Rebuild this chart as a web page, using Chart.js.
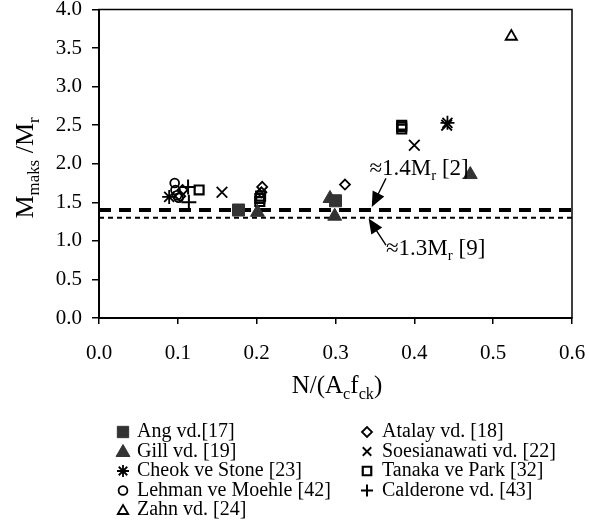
<!DOCTYPE html>
<html lang="tr">
<head>
<meta charset="UTF-8">
<title>Mmaks/Mr - N/(Ac fck)</title>
<script src="https://cdn.jsdelivr.net/npm/chart.js"></script>
<style>
  body { margin: 0; background: #fff; }
  #wrap { width: 589px; height: 531px; }
</style>
</head>
<body>
<div id="wrap"><canvas id="chart" width="589" height="531"></canvas></div>
<script>
// values
const angX = [0.177, 0.300];
const angY = [1.40, 1.52];
const atalayX = [0.103, 0.106, 0.206, 0.207, 0.312];
const atalayY = [1.58, 1.66, 1.63, 1.70, 1.73];
const gillX = [0.201, 0.293, 0.299, 0.471];
const gillY = [1.37, 1.55, 1.32, 1.86];
const soesX = [0.156, 0.400, 0.441];
const soesY = [1.63, 2.24, 2.50];
const cheokX = [0.089, 0.442];
const cheokY = [1.57, 2.53];
const tanakaX = [0.127, 0.204, 0.204, 0.205, 0.384, 0.384, 0.384];
const tanakaY = [1.66, 1.51, 1.55, 1.58, 2.45, 2.48, 2.50];
const lehmanX = [0.096, 0.097, 0.099, 0.101];
const lehmanY = [1.75, 1.66, 1.59, 1.56];
const caldX = [0.113, 0.114];
const caldY = [1.70, 1.50];
const zahnX = [0.523];
const zahnY = [3.65];

// reference levels
const refX = [0, 0.6];
const ref14 = [1.4, 1.4];
const ref13 = [1.3, 1.3];

const xTicks = [0, 0.1, 0.2, 0.3, 0.4, 0.5, 0.6];
const yTicks = [0, 0.5, 1, 1.5, 2, 2.5, 3, 3.5, 4];

const FONT = "'Liberation Serif', 'Times New Roman', serif";
const DARK = '#333333';

function pts(xs, ys) {
  return xs.map((x, i) => ({ x: x, y: ys[i] }));
}

function series(label, xs, ys, style, r, filled, lw) {
  return {
    label: label,
    data: pts(xs, ys),
    showLine: false,
    pointStyle: style,
    pointRadius: r,
    pointHoverRadius: r,
    pointBorderWidth: lw || 1.8,
    pointBorderColor: filled ? DARK : '#000',
    pointBackgroundColor: filled ? DARK : 'rgba(0,0,0,0)'
  };
}

const datasets = [
  series('Ang vd.[17]', angX, angY, 'rect', 8.5, true, 1),
  series('Gill vd. [19]', gillX, gillY, 'triangle', 8, true, 1),
  series('Atalay vd. [18]', atalayX, atalayY, 'rectRot', 5),
  series('Soesianawati vd. [22]', soesX, soesY, 'crossRot', 7.5, false, 1.8),
  series('Cheok ve Stone [23]', cheokX, cheokY, 'star', 7, false, 1.8),
  series('Tanaka ve Park [32]', tanakaX, tanakaY, 'rect', 6.3, false, 2.2),
  series('Lehman ve Moehle [42]', lehmanX, lehmanY, 'circle', 4.4),
  series('Calderone vd. [43]', caldX, caldY, 'cross', 7.5, false, 2),
  series('Zahn vd. [24]', zahnX, zahnY, 'triangle', 6.5, false, 1.8),
  {
    label: '1.4',
    type: 'line',
    data: pts(refX, ref14),
    borderColor: '#000',
    borderWidth: 4,
    borderDash: [12, 8],
    pointRadius: 0,
    order: 10
  },
  {
    label: '1.3',
    type: 'line',
    data: pts(refX, ref13),
    borderColor: '#000',
    borderWidth: 2,
    borderDash: [5, 4],
    pointRadius: 0,
    order: 10
  }
];

// legend layout: two columns, read column by column
const legendCols = [
  ['Ang vd.[17]', 'Gill vd. [19]', 'Cheok ve Stone [23]', 'Lehman ve Moehle [42]', 'Zahn vd. [24]'],
  ['Atalay vd. [18]', 'Soesianawati vd. [22]', 'Tanaka ve Park [32]', 'Calderone vd. [43]']
];

// draw text pieces with subscripts
function richText(ctx, parts, x, y, size, align) {
  ctx.save();
  ctx.textBaseline = 'alphabetic';
  ctx.textAlign = 'left';
  let total = 0;
  parts.forEach(p => {
    ctx.font = (p.sub ? size * 0.65 : size) + 'px ' + FONT;
    p.w = ctx.measureText(p.t).width;
    total += p.w;
  });
  let cx = align === 'center' ? x - total / 2 : x;
  parts.forEach(p => {
    ctx.font = (p.sub ? size * 0.65 : size) + 'px ' + FONT;
    ctx.fillText(p.t, cx, p.sub ? y + size * 0.22 : y);
    cx += p.w;
  });
  ctx.restore();
}

function arrow(ctx, x1, y1, x2, y2) {
  const ang = Math.atan2(y2 - y1, x2 - x1);
  const len = 15, half = 6.5;
  ctx.save();
  ctx.strokeStyle = '#000';
  ctx.fillStyle = '#000';
  ctx.lineWidth = 1.4;
  ctx.beginPath();
  ctx.moveTo(x1, y1);
  ctx.lineTo(x2 - Math.cos(ang) * len * 0.8, y2 - Math.sin(ang) * len * 0.8);
  ctx.stroke();
  ctx.beginPath();
  ctx.moveTo(x2, y2);
  ctx.lineTo(x2 - Math.cos(ang) * len - Math.sin(ang) * half, y2 - Math.sin(ang) * len + Math.cos(ang) * half);
  ctx.lineTo(x2 - Math.cos(ang) * len + Math.sin(ang) * half, y2 - Math.sin(ang) * len - Math.cos(ang) * half);
  ctx.closePath();
  ctx.fill();
  ctx.restore();
}

const extras = {
  id: 'extras',
  afterDraw(chart) {
    const ctx = chart.ctx;
    const a = chart.chartArea;
    const xs = chart.scales.x, ys = chart.scales.y;

    // frame
    ctx.save();
    ctx.strokeStyle = '#000';
    ctx.lineWidth = 1.5;
    ctx.strokeRect(a.left, a.top, a.right - a.left, a.bottom - a.top);
    ctx.restore();

    // annotations
    ctx.fillStyle = '#000';
    richText(ctx, [{ t: '\u22481.4M' }, { t: 'r', sub: true }, { t: ' [2]' }],
      xs.getPixelForValue(0.343), ys.getPixelForValue(1.85), 23);
    arrow(ctx, xs.getPixelForValue(0.364), ys.getPixelForValue(1.81),
      xs.getPixelForValue(0.346), ys.getPixelForValue(1.44));
    richText(ctx, [{ t: '\u22481.3M' }, { t: 'r', sub: true }, { t: ' [9]' }],
      xs.getPixelForValue(0.364), ys.getPixelForValue(0.815), 23);
    arrow(ctx, xs.getPixelForValue(0.364), ys.getPixelForValue(0.945),
      xs.getPixelForValue(0.342), ys.getPixelForValue(1.29));

    // axis titles
    richText(ctx, [{ t: 'N/(A' }, { t: 'c', sub: true }, { t: 'f' }, { t: 'ck', sub: true }, { t: ')' }],
      337, 393, 25, 'center');
    ctx.save();
    ctx.translate(33, 168);
    ctx.rotate(-Math.PI / 2);
    richText(ctx, [{ t: 'M' }, { t: 'maks', sub: true }, { t: ' /M' }, { t: 'r', sub: true }], 0, 0, 26, 'center');
    ctx.restore();

    // legend
    const markerX = [123, 367], textX = [137, 382];
    const rowY = [432, 451.5, 471, 490.5, 510];
    legendCols.forEach((col, ci) => {
      col.forEach((name, ri) => {
        const ds = chart.data.datasets.find(d => d.label === name);
        const y = rowY[ri];
        const big = ds.pointBackgroundColor === DARK;
        const opts = {
          pointStyle: ds.pointStyle,
          radius: big ? 8 : Math.min(ds.pointRadius, 6),
          borderWidth: ds.pointBorderWidth,
          rotation: 0
        };
        ctx.save();
        ctx.strokeStyle = ds.pointBorderColor;
        ctx.fillStyle = ds.pointBackgroundColor;
        ctx.lineWidth = ds.pointBorderWidth;
        if (Chart.helpers && Chart.helpers.drawPoint) {
          Chart.helpers.drawPoint(ctx, opts, markerX[ci], y + (ds.pointStyle === 'triangle' ? 1 : 0));
        }
        ctx.restore();
        ctx.save();
        ctx.fillStyle = '#000';
        ctx.font = '20px ' + FONT;
        ctx.textBaseline = 'middle';
        ctx.fillText(name, textX[ci], y);
        ctx.restore();
      });
    });
  }
};

new Chart(document.getElementById('chart'), {
  type: 'scatter',
  data: { datasets: datasets },
  plugins: [extras],
  options: {
    responsive: false,
    animation: false,
    layout: { padding: { top: 9, right: 17, left: 0, bottom: 0 } },
    plugins: {
      legend: { display: false },
      tooltip: { enabled: false }
    },
    scales: {
      x: {
        type: 'linear',
        min: 0,
        max: 0.6,
        afterFit(scale) {
          scale.height = 213;
          scale.paddingLeft = 0;
          scale.paddingRight = 0;
        },
        afterBuildTicks(scale) { scale.ticks = xTicks.map(v => ({ value: v })); },
        border: { display: true, color: '#000', width: 2 },
        grid: { display: true, drawOnChartArea: false, drawTicks: true, tickLength: 6, color: '#000', lineWidth: 1.5 },
        ticks: {
          padding: 17,
          color: '#000',
          maxRotation: 0,
          font: { family: FONT, size: 21 },
          callback: v => Number(v).toFixed(1)
        }
      },
      y: {
        type: 'linear',
        min: 0,
        max: 4,
        afterFit(scale) {
          scale.width = 99;
          scale.paddingTop = 0;
          scale.paddingBottom = 0;
        },
        afterBuildTicks(scale) { scale.ticks = yTicks.map(v => ({ value: v })); },
        border: { display: true, color: '#000', width: 2 },
        grid: { display: true, drawOnChartArea: false, drawTicks: true, tickLength: 7, color: '#000', lineWidth: 1.5 },
        ticks: {
          padding: 10,
          color: '#000',
          font: { family: FONT, size: 21, lineHeight: 0.85 },
          callback: v => Number(v).toFixed(1)
        }
      }
    }
  }
});
</script>
</body>
</html>
